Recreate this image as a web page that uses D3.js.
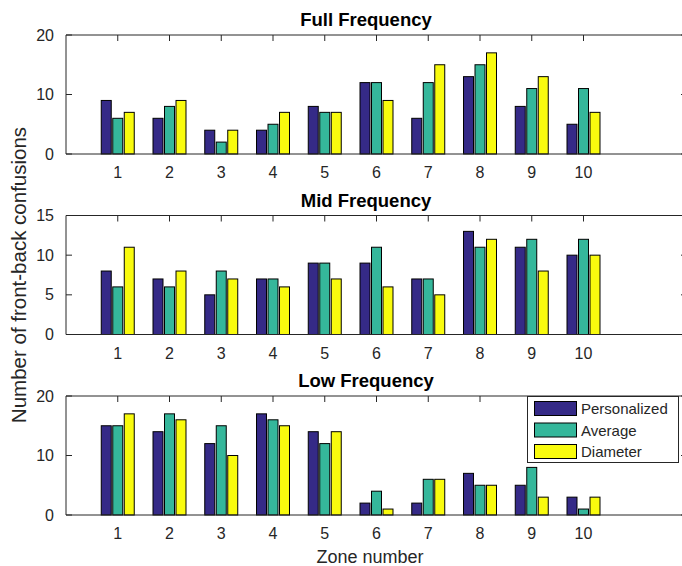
<!DOCTYPE html>
<html>
<head>
<meta charset="utf-8">
<script src="https://cdn.jsdelivr.net/npm/d3@7"></script>
<style>
  body { margin: 0; background: #fff; }
  text { font-family: "Liberation Sans", Arial, Helvetica, sans-serif; fill: #262626; }
</style>
</head>
<body>
<div id="vis"></div>
<script>
// zones on the x axis
const zones = [1, 2, 3, 4, 5, 6, 7, 8, 9, 10];
const seriesNames = ["Personalized", "Average", "Diameter"];

// front-back confusions per zone
const fullPersonalized = [9, 6, 4, 4, 8, 12, 6, 13, 8, 5];
const fullAverage      = [6, 8, 2, 5, 7, 12, 12, 15, 11, 11];
const fullDiameter     = [7, 9, 4, 7, 7, 9, 15, 17, 13, 7];

const midPersonalized = [8, 7, 5, 7, 9, 9, 7, 13, 11, 10];
const midAverage      = [6, 6, 8, 7, 9, 11, 7, 11, 12, 12];
const midDiameter     = [11, 8, 7, 6, 7, 6, 5, 12, 8, 10];

const lowPersonalized = [15, 14, 12, 17, 14, 2, 2, 7, 5, 3];
const lowAverage      = [15, 17, 15, 16, 12, 4, 6, 5, 8, 1];
const lowDiameter     = [17, 16, 10, 15, 14, 1, 6, 5, 3, 3];

const fullTicks = [0, 10, 20];
const midTicks = [0, 5, 10, 15];
const lowTicks = [0, 10, 20];

(function(){
  const width = 682;
  const height = 566;
  const colors = ["#352a87", "#35b79b", "#f9fb0e"];

  const svg = d3.select("#vis").append("svg")
    .attr("width", width)
    .attr("height", height);

  const panels = [
    { title: "Full Frequency", series: [fullPersonalized, fullAverage, fullDiameter], ticks: fullTicks, top: 35 },
    { title: "Mid Frequency", series: [midPersonalized, midAverage, midDiameter], ticks: midTicks, top: 215.5 },
    { title: "Low Frequency", series: [lowPersonalized, lowAverage, lowDiameter], ticks: lowTicks, top: 396 }
  ];

  const plotH = 119;
  const x = d3.scaleLinear().domain([0, 12]).range([66, 687]);
  const offset = 0.2222; // group spacing in zone units
  const barW = x(0.193) - x(0);
  const tickLen = 6;

  panels.forEach(p => {
    const ymax = d3.max(p.ticks);
    const y = d3.scaleLinear().domain([0, ymax]).range([p.top + plotH, p.top]);
    const g = svg.append("g");

    // title
    g.append("text")
      .attr("x", 366)
      .attr("y", p.top - 9)
      .attr("text-anchor", "middle")
      .style("font-weight", "bold")
      .style("font-size", "18.5px")
      .style("fill", "#000")
      .text(p.title);

    // ticks (behind the bars)
    zones.forEach(z => {
      g.append("line")
        .attr("x1", x(z)).attr("x2", x(z))
        .attr("y1", y(ymax)).attr("y2", y(ymax) + tickLen)
        .attr("stroke", "#262626");
      g.append("line")
        .attr("x1", x(z)).attr("x2", x(z))
        .attr("y1", y(0)).attr("y2", y(0) - tickLen)
        .attr("stroke", "#262626");
    });
    p.ticks.forEach(t => {
      g.append("line")
        .attr("x1", x(0)).attr("x2", x(0) + tickLen)
        .attr("y1", y(t)).attr("y2", y(t))
        .attr("stroke", "#262626");
      g.append("line")
        .attr("x1", x(12)).attr("x2", x(12) - tickLen)
        .attr("y1", y(t)).attr("y2", y(t))
        .attr("stroke", "#262626");
    });

    // bars
    p.series.forEach((vals, i) => {
      g.selectAll(null)
        .data(vals)
        .enter()
        .append("rect")
        .attr("x", (d, j) => x(zones[j] + (i - 1) * offset) - barW / 2)
        .attr("y", d => y(d))
        .attr("width", barW)
        .attr("height", d => y(0) - y(d))
        .attr("fill", colors[i])
        .attr("stroke", "#000")
        .attr("stroke-width", 1);
    });

    // axis box
    g.append("line")
      .attr("x1", x(0)).attr("x2", x(12))
      .attr("y1", y(ymax)).attr("y2", y(ymax))
      .attr("stroke", "#262626");
    g.append("line")
      .attr("x1", x(0)).attr("x2", x(12))
      .attr("y1", y(0)).attr("y2", y(0))
      .attr("stroke", "#262626");
    g.append("line")
      .attr("x1", x(0)).attr("x2", x(0))
      .attr("y1", y(0)).attr("y2", y(ymax))
      .attr("stroke", "#262626");
    g.append("line")
      .attr("x1", x(12)).attr("x2", x(12))
      .attr("y1", y(0)).attr("y2", y(ymax))
      .attr("stroke", "#262626");

    // tick labels
    g.selectAll(null)
      .data(p.ticks)
      .enter()
      .append("text")
      .attr("x", 54)
      .attr("y", d => y(d) + 5.5)
      .attr("text-anchor", "end")
      .style("font-size", "16px")
      .text(d => d);

    g.selectAll(null)
      .data(zones)
      .enter()
      .append("text")
      .attr("x", d => x(d))
      .attr("y", p.top + plotH + 24)
      .attr("text-anchor", "middle")
      .style("font-size", "16px")
      .text(d => d);
  });

  // axis labels
  svg.append("text")
    .attr("x", 370)
    .attr("y", 563)
    .attr("text-anchor", "middle")
    .style("font-size", "18px")
    .text("Zone number");

  svg.append("text")
    .attr("transform", "translate(26,275) rotate(-90)")
    .attr("text-anchor", "middle")
    .style("font-size", "20.5px")
    .text("Number of front-back confusions");

  // legend
  const legend = svg.append("g");
  legend.append("rect")
    .attr("x", 527.5).attr("y", 396.5)
    .attr("width", 151).attr("height", 66)
    .attr("fill", "#fff")
    .attr("stroke", "#262626");

  seriesNames.forEach((name, i) => {
    const yy = 401.5 + i * 21.5;
    legend.append("rect")
      .attr("x", 534.5).attr("y", yy)
      .attr("width", 42).attr("height", 14)
      .attr("fill", colors[i])
      .attr("stroke", "#000");
    legend.append("text")
      .attr("x", 581)
      .attr("y", yy + 12.5)
      .style("font-size", "15px")
      .text(name);
  });
})();
</script>
</body>
</html>
